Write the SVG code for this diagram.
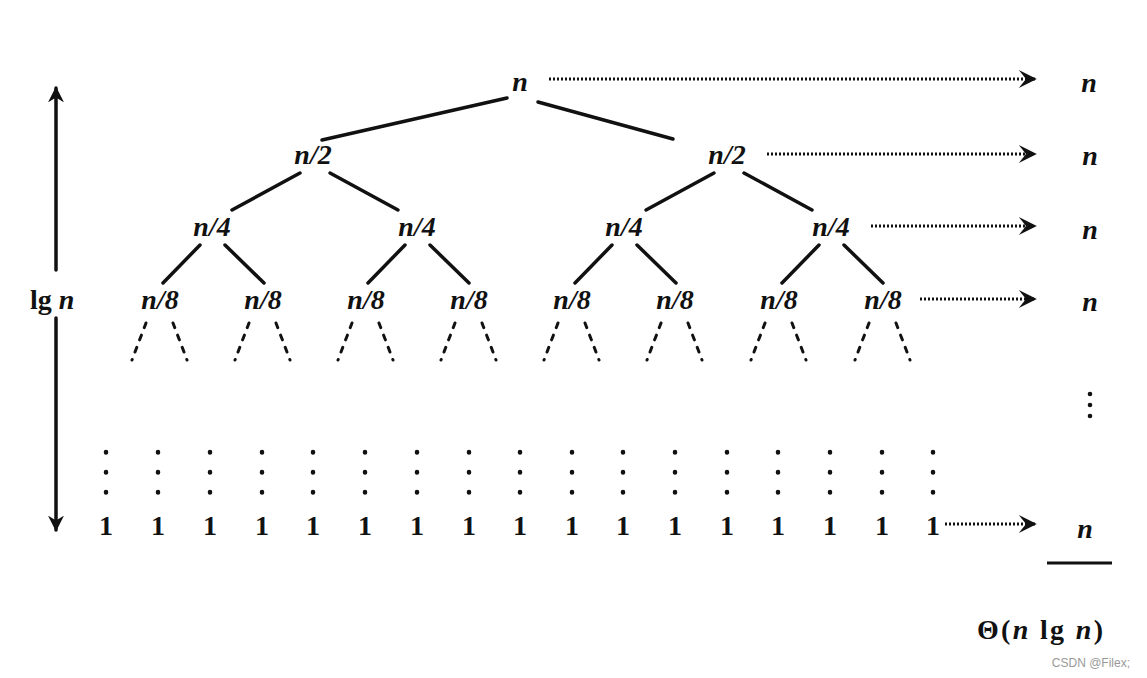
<svg xmlns="http://www.w3.org/2000/svg" width="1147" height="678" viewBox="0 0 1147 678">
<style>
.t{font-family:"Liberation Serif",serif;font-weight:bold;font-style:italic;font-size:28px;fill:#111;text-anchor:middle}
.u{font-family:"Liberation Serif",serif;font-weight:bold;font-size:28px;fill:#111}
.e{stroke:#111;stroke-width:3.5;fill:none;stroke-linecap:round}
.d{stroke:#111;stroke-width:3;fill:none;stroke-dasharray:2 2}
.dd{stroke:#111;stroke-width:3;fill:none;stroke-dasharray:5 8;stroke-linecap:round}
.v{stroke:#111;stroke-width:4.5;fill:none;stroke-dasharray:0.5 19.5;stroke-linecap:round}
</style>
<defs>
<marker id="ah" viewBox="0 0 10 10" refX="9" refY="5" markerWidth="16" markerHeight="22" markerUnits="userSpaceOnUse" orient="auto"><path d="M0,0 L10,5 L0,10 L3,5 Z" fill="#111"/></marker>
<marker id="big" viewBox="0 0 10 10" refX="9" refY="5" markerWidth="28" markerHeight="18" markerUnits="userSpaceOnUse" orient="auto"><path d="M0,0 L10,5 L0,10 L4,5 Z" fill="#111"/></marker>
</defs>
<rect width="1147" height="678" fill="#fff"/>
<g id="connectors">
<line class="e" x1="507" y1="98" x2="322" y2="140"/>
<line class="e" x1="538" y1="102" x2="673" y2="139"/>
<line class="e" x1="300" y1="173" x2="232" y2="210"/>
<line class="e" x1="330" y1="173" x2="398" y2="210"/>
<line class="e" x1="714" y1="173" x2="646" y2="210"/>
<line class="e" x1="744" y1="173" x2="812" y2="210"/>
<line class="e" x1="200" y1="245" x2="163" y2="283"/>
<line class="e" x1="225" y1="245" x2="264" y2="283"/>
<line class="e" x1="405" y1="245" x2="368" y2="283"/>
<line class="e" x1="430" y1="245" x2="469" y2="283"/>
<line class="e" x1="612" y1="245" x2="575" y2="283"/>
<line class="e" x1="637" y1="245" x2="676" y2="283"/>
<line class="e" x1="819" y1="245" x2="782" y2="283"/>
<line class="e" x1="844" y1="245" x2="883" y2="283"/>
<g id="dots">
<path class="dd" d="M146,323 L132,360 M173,323 L187,360 M249,323 L235,360 M276,323 L290,360 M352,323 L338,360 M379,323 L393,360 M455,323 L441,360 M482,323 L496,360 M558,323 L544,360 M585,323 L599,360 M661,323 L647,360 M688,323 L702,360 M765,323 L751,360 M792,323 L806,360 M869,323 L855,360 M896,323 L910,360"/>
<path class="v" d="M106,452 V500 M158,452 V500 M210,452 V500 M262,452 V500 M313,452 V500 M365,452 V500 M417,452 V500 M469,452 V500 M520,452 V500 M572,452 V500 M623,452 V500 M675,452 V500 M727,452 V500 M778,452 V500 M830,452 V500 M882,452 V500 M933,452 V500"/>
<circle cx="1090" cy="394" r="2.3" fill="#111"/>
<circle cx="1090" cy="405" r="2.3" fill="#111"/>
<circle cx="1090" cy="416" r="2.3" fill="#111"/>
</g>
<line class="d" x1="549" y1="79" x2="1035" y2="79" marker-end="url(#big)"/>
<line class="d" x1="767" y1="154" x2="1035" y2="154" marker-end="url(#big)"/>
<line class="d" x1="871" y1="226" x2="1035" y2="226" marker-end="url(#big)"/>
<line class="d" x1="920" y1="299" x2="1035" y2="299" marker-end="url(#big)"/>
<line class="d" x1="945" y1="524" x2="1035" y2="524" marker-end="url(#big)"/>
<line class="e" x1="56" y1="270" x2="56" y2="88" marker-end="url(#ah)" stroke-width="3"/>
<line class="e" x1="56" y1="318" x2="56" y2="530" marker-end="url(#ah)" stroke-width="3"/>
<line x1="1047" y1="563" x2="1112" y2="563" stroke="#111" stroke-width="3"/>
</g>
<g id="root"><text class="t" x="520" y="91">n</text></g>
<g id="l1a"><text class="t" x="313" y="164">n/2</text></g>
<g id="l1b"><text class="t" x="727" y="164">n/2</text></g>
<g id="l2a"><text class="t" x="212" y="236">n/4</text></g>
<g id="l2b"><text class="t" x="417" y="236">n/4</text></g>
<g id="l2c"><text class="t" x="624" y="236">n/4</text></g>
<g id="l2d"><text class="t" x="831" y="236">n/4</text></g>
<g id="l3">
<text class="t" x="160" y="309">n/8</text>
<text class="t" x="263" y="309">n/8</text>
<text class="t" x="366" y="309">n/8</text>
<text class="t" x="469" y="309">n/8</text>
<text class="t" x="572" y="309">n/8</text>
<text class="t" x="675" y="309">n/8</text>
<text class="t" x="779" y="309">n/8</text>
<text class="t" x="883" y="309">n/8</text>
</g>
<g id="leaves" class="u" font-size="30">
<text x="106" y="535" text-anchor="middle">1</text><text x="158" y="535" text-anchor="middle">1</text><text x="210" y="535" text-anchor="middle">1</text><text x="262" y="535" text-anchor="middle">1</text><text x="313" y="535" text-anchor="middle">1</text><text x="365" y="535" text-anchor="middle">1</text><text x="417" y="535" text-anchor="middle">1</text><text x="469" y="535" text-anchor="middle">1</text><text x="520" y="535" text-anchor="middle">1</text><text x="572" y="535" text-anchor="middle">1</text><text x="623" y="535" text-anchor="middle">1</text><text x="675" y="535" text-anchor="middle">1</text><text x="727" y="535" text-anchor="middle">1</text><text x="778" y="535" text-anchor="middle">1</text><text x="830" y="535" text-anchor="middle">1</text><text x="882" y="535" text-anchor="middle">1</text><text x="933" y="535" text-anchor="middle">1</text>
</g>
<g id="sums">
<text class="t" x="1089" y="92">n</text>
<text class="t" x="1090" y="165">n</text>
<text class="t" x="1090" y="239">n</text>
<text class="t" x="1090" y="311">n</text>
<text class="t" x="1085" y="538">n</text>
</g>
<g id="height"><text class="u" x="30" y="309">lg <tspan font-style="italic">n</tspan></text></g>
<g id="total"><text class="u" x="977" y="639" font-size="31" textLength="126" lengthAdjust="spacing">Θ(<tspan font-style="italic">n</tspan> lg <tspan font-style="italic">n</tspan>)</text></g>
<text x="1130" y="667" font-family="Liberation Sans,sans-serif" font-size="12" fill="#999" text-anchor="end">CSDN @Filex;</text>
</svg>
